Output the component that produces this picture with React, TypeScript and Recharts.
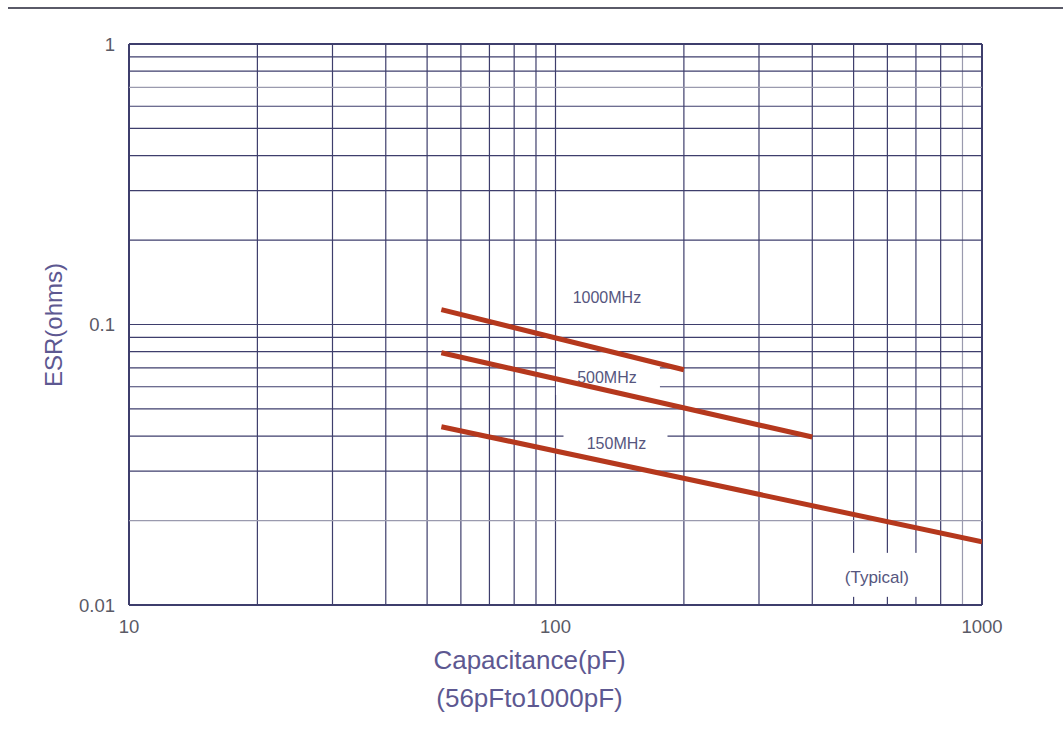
import React from 'react';
import { LineChart, Line, XAxis, YAxis, ReferenceLine, ReferenceDot } from 'recharts';

// axis ticks and grid (log-log paper)
const capTicks = [10, 100, 1000];
const esrTicks = [0.01, 0.1, 1];
const capGrid = [10, 20, 30, 40, 50, 60, 70, 80, 90, 100, 200, 300, 400, 500, 600, 700, 800, 900, 1000];
const esrGrid = [0.01, 0.02, 0.03, 0.04, 0.05, 0.06, 0.07, 0.08, 0.09, 0.1, 0.2, 0.3, 0.4, 0.5, 0.6, 0.7, 0.8, 0.9, 1];
const lightCapGrid = [900];
const lightEsrGrid = [0.02, 0.7];

// ESR curves
const cap1000 = [54, 200];
const esr1000 = [0.113, 0.069];
const cap500 = [54, 400];
const esr500 = [0.0793, 0.0397];
const cap150 = [54, 1000];
const esr150 = [0.0432, 0.0168];

// in-plot notes
const noteText = ['1000MHz', '500MHz', '150MHz', '(Typical)'];
const noteCap = [132, 132, 139, 567];
const noteEsr = [0.125, 0.065, 0.0378, 0.0126];

const toPoints = (caps: number[], esrs: number[]) => caps.map((cap, i) => ({ cap, esr: esrs[i] }));

const series = [
  { name: '1000MHz', data: toPoints(cap1000, esr1000) },
  { name: '500MHz', data: toPoints(cap500, esr500) },
  { name: '150MHz', data: toPoints(cap150, esr150) },
];

// white patch behind each note (left, right, top, bottom in px)
const NOTE_BOX = [
  [50, 74, 25, 23],
  [51, 53, 17, 18],
  [53, 51, 14, 14],
  [31, 49, 24, 20],
];

const FONT = '"Liberation Sans", Arial, sans-serif';
const GRID = '#3e3e6c';
const GRID_LIGHT = '#9a9aae';
const TITLE = '#5d5891';
const CURVE = '#b5381d';

const XTitle = (props: any) => {
  const vb = props.viewBox || {};
  const cx = vb.x + vb.width / 2 - 26;
  return (
    <text x={cx} textAnchor="middle" fill={TITLE} fontSize={26} fontFamily={FONT}>
      <tspan x={cx} y={669}>Capacitance(pF)</tspan>
      <tspan x={cx} y={707}>(56pFto1000pF)</tspan>
    </text>
  );
};

const YTitle = () => (
  <text
    x={62}
    y={325}
    transform="rotate(-90 62 325)"
    textAnchor="middle"
    fill={TITLE}
    fontSize={24}
    fontFamily={FONT}
  >
    ESR(ohms)
  </text>
);

const NoteShape = (idx: number) => (props: any) => {
  const { cx, cy } = props;
  const [l, r, t, b] = NOTE_BOX[idx];
  return (
    <g>
      <rect x={cx - l} y={cy - t} width={l + r} height={t + b} fill="#fff" />
      <text
        x={cx}
        y={cy}
        dy="0.35em"
        textAnchor="middle"
        fill="#56567e"
        fontSize={idx === 3 ? 17 : 16}
        fontFamily={FONT}
      >
        {noteText[idx]}
      </text>
    </g>
  );
};

export default function App() {
  React.useEffect(() => {
    document.body.style.margin = '0';
    document.body.style.background = '#fff';
  }, []);

  return (
    <div style={{ position: 'relative', width: 1063, height: 731, background: '#fff' }}>
      <div style={{ position: 'absolute', left: 8, top: 7, width: 1055, height: 2, background: '#5a5a68' }} />
      <LineChart width={1063} height={731} margin={{ top: 44, right: 81, bottom: 96, left: 69 }}>
        <XAxis
          type="number"
          dataKey="cap"
          scale="log"
          domain={[10, 1000]}
          ticks={capTicks}
          interval={0}
          allowDataOverflow
          axisLine={false}
          tickLine={false}
          tickSize={13}
          height={30}
          tick={{ fill: '#5a5a66', fontSize: 18.5, fontFamily: FONT }}
          label={{ content: XTitle }}
        />
        <YAxis
          type="number"
          dataKey="esr"
          scale="log"
          domain={[0.01, 1]}
          ticks={esrTicks}
          interval={0}
          allowDataOverflow
          axisLine={false}
          tickLine={false}
          tickSize={12}
          width={60}
          tick={{ fill: '#5a5a66', fontSize: 18.5, fontFamily: FONT }}
          label={{ content: YTitle }}
        />
        {capGrid.map((v) => (
          <ReferenceLine
            key={`x-${v}`}
            x={v}
            stroke={lightCapGrid.includes(v) ? GRID_LIGHT : GRID}
            strokeWidth={v === 10 || v === 1000 ? 2 : 1.2}
            zIndex={-95}
          />
        ))}
        {esrGrid.map((v) => (
          <ReferenceLine
            key={`y-${v}`}
            y={v}
            stroke={lightEsrGrid.includes(v) ? GRID_LIGHT : GRID}
            strokeWidth={v === 0.01 || v === 1 ? 2 : 1.2}
            zIndex={-95}
          />
        ))}
        {noteText.map((t, i) => (
          <ReferenceDot
            key={t}
            x={noteCap[i]}
            y={noteEsr[i]}
            r={1}
            shape={NoteShape(i)}
            zIndex={-90}
          />
        ))}
        {series.map((s) => (
          <Line
            key={s.name}
            name={s.name}
            data={s.data}
            dataKey="esr"
            stroke={CURVE}
            strokeWidth={5}
            dot={false}
            activeDot={false}
            isAnimationActive={false}
          />
        ))}
      </LineChart>
    </div>
  );
}
